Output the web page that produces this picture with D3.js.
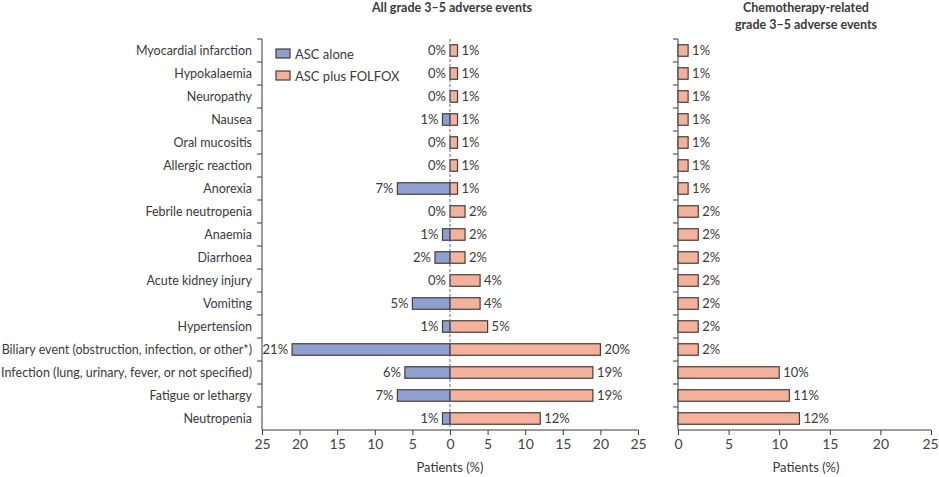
<!DOCTYPE html>
<meta charset="UTF-8">
<html>
<head>
  <style>
    body { margin: 0; background: #fff; }
    svg text { font-family: Lato, "Open Sans", sans-serif; fill: #3a3a3a; }
    .axis path, .axis line { stroke: #3a3a3a; }
    .axis text { font-size: 14px; fill: #444; }
  </style>
</head>
<body>
  <svg id="chart" width="939" height="477"></svg>
  <script src="https://d3js.org/d3.v7.min.js"></script>
  <script>
    // adverse events, top to bottom
    var events = [
      "Myocardial infarction", "Hypokalaemia", "Neuropathy", "Nausea",
      "Oral mucositis", "Allergic reaction", "Anorexia", "Febrile neutropenia",
      "Anaemia", "Diarrhoea", "Acute kidney injury", "Vomiting", "Hypertension",
      "Biliary event (obstruction, infection, or other*)",
      "Infection (lung, urinary, fever, or not specified)",
      "Fatigue or lethargy", "Neutropenia"
    ];
    var ascAlone = [0, 0, 0, 1, 0, 0, 7, 0, 1, 2, 0, 5, 1, 21, 6, 7, 1];
    var ascFolfox = [1, 1, 1, 1, 1, 1, 1, 2, 2, 2, 4, 4, 5, 20, 19, 19, 12];
    var chemoRelated = [1, 1, 1, 1, 1, 1, 1, 2, 2, 2, 2, 2, 2, 2, 10, 11, 12];
    var leftTicks = [25, 20, 15, 10, 5, 0, 5, 10, 15, 20, 25];
    var rightTicks = [0, 5, 10, 15, 20, 25];

    var blue = "#8e9fd2", salmon = "#f5b29b", edge = "#4a3b38";

    var svg = d3.select("#chart");
    var yTop = 39, yBottom = 430;

    var y = d3.scaleBand().domain(events).range([yTop, yBottom]).paddingInner(0.5).paddingOuter(0.25);
    var bh = y.bandwidth();

    // left panel: mirrored axis, right panel: plain
    var xl = d3.scaleLinear().domain([-25, 25]).range([262, 638]);
    var xr = d3.scaleLinear().domain([0, 25]).range([678, 931]);

    // y axis lines with ticks at band boundaries
    function yAxis(x0) {
      var g = svg.append("g");
      g.append("line").attr("x1", x0).attr("x2", x0).attr("y1", yTop).attr("y2", yBottom)
        .attr("stroke", "#3a3a3a");
      var bounds = d3.range(events.length).map(function (i) { return yTop + i * y.step(); });
      g.selectAll("line.t").data(bounds).enter().append("line")
        .attr("x1", x0 - 5).attr("x2", x0).attr("y1", function (d) { return d; })
        .attr("y2", function (d) { return d; }).attr("stroke", "#3a3a3a");
    }
    yAxis(262);
    yAxis(678);

    // x axes
    svg.append("g").attr("class", "axis").attr("transform", "translate(0," + yBottom + ")")
      .call(d3.axisBottom(xl).tickValues(d3.range(-25, 26, 5)).tickSize(5)
        .tickFormat(function (d, i) { return leftTicks[i]; }))
      .call(function (g) { g.select(".domain").attr("d", "M262,0H638"); });
    svg.append("g").attr("class", "axis right").attr("transform", "translate(0," + yBottom + ")")
      .call(d3.axisBottom(xr).tickValues(rightTicks).tickSize(5))
      .call(function (g) { g.select(".domain").attr("d", "M678,0H931"); });
    svg.selectAll(".axis text").attr("dy", "0.75em");
    // keep the last label inside the window
    svg.selectAll(".right .tick text").filter(function (d) { return d === 25; }).attr("dx", -1);

    // event labels
    svg.append("g").selectAll("text").data(events).enter().append("text")
      .attr("x", 252).attr("y", function (d) { return y(d) + bh / 2; })
      .attr("dy", "0.35em").attr("text-anchor", "end").attr("font-size", 12.5)
      .text(function (d) { return d; });

    // blue bars (ASC alone), going left
    var bg = svg.append("g");
    ascAlone.forEach(function (d, i) {
      if (d > 0) {
        bg.append("rect").attr("x", xl(-d)).attr("y", y(events[i]))
          .attr("width", xl(0) - xl(-d)).attr("height", bh)
          .attr("fill", blue).attr("stroke", edge).attr("stroke-width", 1.2);
      }
      bg.append("text").attr("x", xl(-d) - 4).attr("y", y(events[i]) + bh / 2)
        .attr("dy", "0.35em").attr("text-anchor", "end").attr("font-size", 13)
        .text(d + "%");
    });

    // salmon bars (ASC plus FOLFOX)
    var fg = svg.append("g");
    ascFolfox.forEach(function (d, i) {
      fg.append("rect").attr("x", xl(0)).attr("y", y(events[i]))
        .attr("width", xl(d) - xl(0)).attr("height", bh)
        .attr("fill", salmon).attr("stroke", edge).attr("stroke-width", 1.2);
      fg.append("text").attr("x", xl(d) + 4).attr("y", y(events[i]) + bh / 2)
        .attr("dy", "0.35em").attr("font-size", 13).text(d + "%");
    });

    // zero dashed line
    svg.append("line").attr("x1", xl(0)).attr("x2", xl(0)).attr("y1", yTop).attr("y2", yBottom)
      .attr("stroke", "#5a6a90").attr("stroke-dasharray", "3,2").attr("stroke-width", 1);

    // chemo-related bars
    var cg = svg.append("g");
    chemoRelated.forEach(function (d, i) {
      cg.append("rect").attr("x", xr(0)).attr("y", y(events[i]))
        .attr("width", xr(d) - xr(0)).attr("height", bh)
        .attr("fill", salmon).attr("stroke", edge).attr("stroke-width", 1.2);
      cg.append("text").attr("x", xr(d) + 4).attr("y", y(events[i]) + bh / 2)
        .attr("dy", "0.35em").attr("font-size", 13).text(d + "%");
    });

    // legend
    var legend = [["ASC alone", blue], ["ASC plus FOLFOX", salmon]];
    legend.forEach(function (l, i) {
      svg.append("rect").attr("x", 276).attr("y", 49 + i * 22).attr("width", 14).attr("height", 9)
        .attr("fill", l[1]).attr("stroke", edge).attr("stroke-width", 1.2);
      svg.append("text").attr("x", 295).attr("y", 54 + i * 22).attr("dy", "0.35em")
        .attr("font-size", 13).text(l[0]);
    });

    // titles
    svg.append("text").attr("x", 452).attr("y", 12).attr("text-anchor", "middle")
      .attr("font-size", 12.5).attr("font-weight", "bold").text("All grade 3–5 adverse events");
    svg.append("text").attr("x", 806).attr("y", 12).attr("text-anchor", "middle")
      .attr("font-size", 12.5).attr("font-weight", "bold").text("Chemotherapy-related");
    svg.append("text").attr("x", 806).attr("y", 29).attr("text-anchor", "middle")
      .attr("font-size", 12.5).attr("font-weight", "bold").text("grade 3–5 adverse events");

    svg.append("text").attr("x", 450).attr("y", 472).attr("text-anchor", "middle")
      .attr("font-size", 13).text("Patients (%)");
    svg.append("text").attr("x", 806).attr("y", 472).attr("text-anchor", "middle")
      .attr("font-size", 13).text("Patients (%)");
  </script>
</body>
</html>
